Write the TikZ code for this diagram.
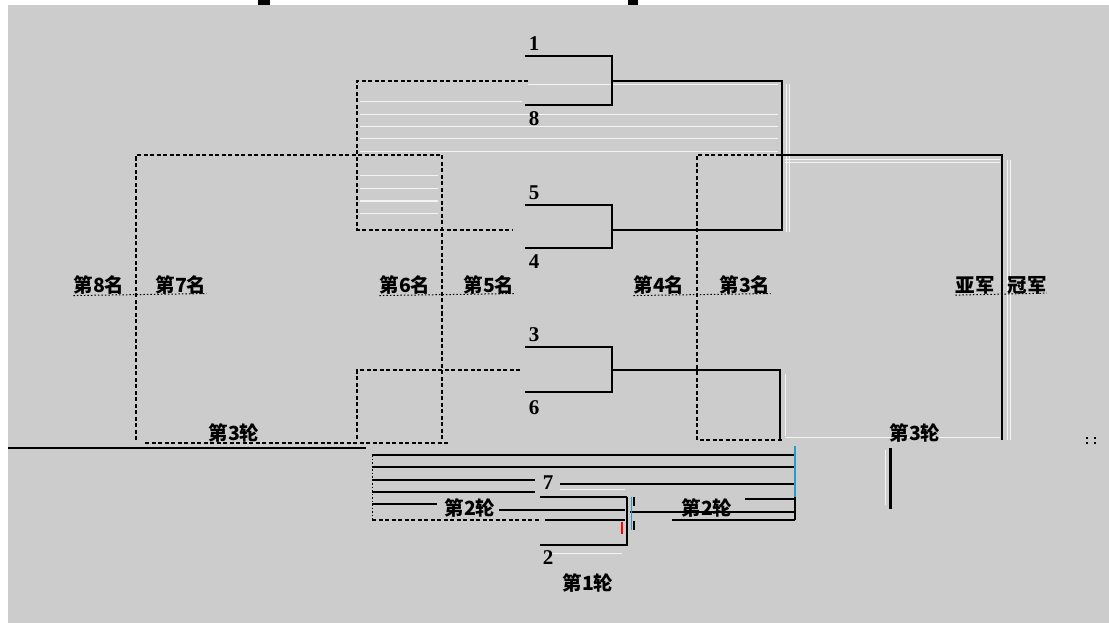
\documentclass[tikz,border=0pt]{standalone}
\usepackage{fontspec}
\newfontfamily\cjk{Noto Sans CJK SC}
\newfontfamily\numf{Liberation Serif}
\definecolor{bggray}{HTML}{CCCCCC}
\definecolor{ghost}{HTML}{F4F4F4}
\begin{document}
\begin{tikzpicture}[x=1pt,y=-1pt,
  solidln/.style={black,line width=1.6pt},
  dashln/.style={black,line width=1.3pt,dash pattern=on 4pt off 2.5pt},
  dotln/.style={black,line width=1pt,dash pattern=on 1.5pt off 2pt},
  ghostln/.style={ghost,line width=1pt},
  lbl/.style={inner sep=0pt,font=\cjk\bfseries\fontsize{19.5}{20}\selectfont},
  num/.style={inner sep=0pt,font=\numf\bfseries\fontsize{21}{21}\selectfont}]
\useasboundingbox (0,0) rectangle (1109,623);
\fill[white] (0,0) rectangle (1109,623);
\fill[bggray] (8,5) rectangle (1109,623);
\fill[black] (258,0) rectangle (270,5);
\fill[black] (628,0) rectangle (638,5);

% ghost lines
\foreach \yy in {115,127,139,152} \draw[ghostln] (360,\yy) -- (778,\yy);
\draw[ghostln] (360,102) -- (522,102);
\draw[ghostln] (528,85) -- (778,85);
\foreach \yy in {176,189,201,213} \draw[ghostln] (360,\yy) -- (438,\yy);
\draw[ghostln] (786,84) -- (786,232);
\draw[ghostln] (789,84) -- (789,232);
\draw[ghostln] (785,160) -- (1000,160);
\draw[ghostln] (785,163) -- (1000,163);
\draw[ghostln] (1007,160) -- (1007,440);
\draw[ghostln] (1010,160) -- (1010,440);
\draw[ghostln] (785,437) -- (1000,437);
\draw[ghostln] (785,374) -- (785,436);
\draw[ghostln] (548,553) -- (622,553);
\draw[ghostln] (560,489) -- (625,489);
\draw[ghostln] (885,450) -- (885,505);

% labels
\node[num] (n1) at (534,44) {1};
\node[num] (n8) at (534,119) {8};
\node[num] (n5) at (534,193) {5};
\node[num] (n4) at (534,262) {4};
\node[num] (n3) at (534,335) {3};
\node[num] (n6) at (534,408) {6};
\node[num] (n7) at (548,483) {7};
\node[num] (n2) at (548,558) {2};

\node[lbl] (p8) at (99,285) {第8名};
\node[lbl] (p7) at (181,285) {第7名};
\node[lbl] (p6) at (405,285) {第6名};
\node[lbl] (p5) at (489,285) {第5名};
\node[lbl] (p4) at (659,285) {第4名};
\node[lbl] (p3) at (745,285) {第3名};
\node[lbl] (p2) at (975,285) {亚军};
\node[lbl] (p1) at (1027,285) {冠军};
\node[lbl] (r3a) at (234,433) {第3轮};
\node[lbl] (r3b) at (915,433) {第3轮};
\node[lbl] (r2a) at (470,508) {第2轮};
\node[lbl] (r2b) at (707,508) {第2轮};
\node[lbl] (r1) at (588,583) {第1轮};

% dotted underlines between paired labels
\draw[dotln] (p8.south west) ++(0,1) -- ([yshift=1pt]p7.south east);
\draw[dotln] (p6.south west) ++(0,1) -- ([yshift=1pt]p5.south east);
\draw[dotln] (p4.south west) ++(0,1) -- ([yshift=1pt]p3.south east);
\draw[dotln] (p2.south west) ++(0,1) -- ([yshift=1pt]p1.south east);

% first-round brackets
\coordinate (a1) at (525,56); \coordinate (a8) at (525,105);
\coordinate (a5) at (525,205); \coordinate (a4) at (525,248);
\coordinate (a3) at (525,347); \coordinate (a6) at (525,392);
\draw[solidln] (a1) -- (612,56) -- (612,105) -- (a8);
\draw[solidln] (a5) -- (612,205) -- (612,248) -- (a4);
\draw[solidln] (a3) -- (612,347) -- (612,392) -- (a6);
% second round
\coordinate (w18) at (612,81); \coordinate (w54) at (612,230); \coordinate (w36) at (612,370);
\draw[solidln] (w18) -- (782,81) -- (782,230) -- (w54);
\draw[solidln] (w36) -- (780,370) -- (780,440);
% final
\coordinate (f) at (780,155);
\draw[solidln] (f) -- (1002,155) -- (1002,440);

% dashed (losers)
\draw[dashln] (528,81) -- (357,81) -- (357,230) -- (512,230);
\draw[dashln] (136,440) -- (136,155) -- (442,155) -- (442,440);
\draw[dashln] (520,370) -- (357,370) -- (357,440);
\draw[dashln] (780,155) -- (697,155) -- (697,440) -- (782,440);
\draw[dashln] (683,230) -- (712,230);
\draw[dashln] (145,443) -- (448,443);

% bottom left base line
\draw[black,line width=1.6pt] (8,448) -- (366,448);

% lower group
\draw[dotln] (372,455) -- (372,520);
\draw[solidln,line width=1.3pt] (372,455) -- (795,455);
\draw[solidln,line width=1.3pt] (372,467) -- (795,467);
\draw[solidln,line width=1.3pt] (372,480) -- (535,480);
\draw[solidln,line width=1.3pt] (560,484) -- (795,484);
\draw[solidln,line width=1.3pt] (372,492) -- (535,492);
\draw[solidln,line width=1.3pt] (540,497) -- (627,497);
\draw[solidln,line width=1.3pt] (372,504) -- (437,504);
\draw[solidln,line width=1.3pt] (499,510) -- (625,510);
\draw[dashln] (372,520) -- (540,520);
\draw[solidln,line width=1.3pt] (545,520) -- (625,520);
\draw[solidln,line width=1.3pt] (540,545) -- (627,545) -- (627,497);
\draw[cyan!80!black,line width=1.3pt] (795,446) -- (795,497);
\draw[solidln,line width=1.3pt] (795,497) -- (795,520);
\draw[solidln,line width=1.3pt] (745,499) -- (795,499);
\draw[solidln,line width=1.3pt] (630,512) -- (795,512);
\draw[solidln,line width=1.3pt] (672,520) -- (795,520);
\draw[solidln,line width=1.3pt] (634,497) -- (634,506);
\draw[solidln,line width=1.3pt] (634,521) -- (634,530);
\draw[red,line width=1.3pt] (622,522) -- (622,534);
\draw[cyan!80!black,line width=1pt] (631,497) -- (631,530);
\draw[black,line width=3pt] (890,448) -- (890,509);
\fill[black] (1086,437) rectangle (1088,439);
\fill[black] (1086,442) rectangle (1088,444);
\fill[black] (1094,437) rectangle (1096,439);
\fill[black] (1094,442) rectangle (1096,444);
\end{tikzpicture}
\end{document}
